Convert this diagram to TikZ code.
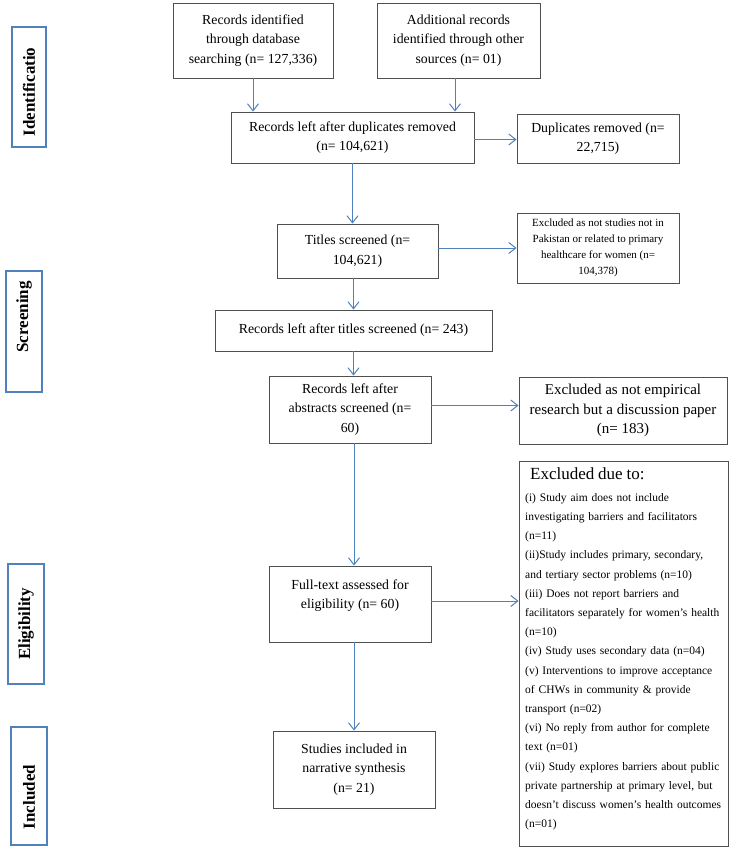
\documentclass[tikz,border=0pt]{standalone}
\usepackage{fontspec}
\setmainfont{Liberation Serif}
\usetikzlibrary{arrows.meta,calc}
\definecolor{obl}{HTML}{4F81BD}
\definecolor{bx}{HTML}{505050}
\newcommand{\jline}[1]{\makebox[194pt][s]{#1}}
\begin{document}
\begin{tikzpicture}[x=1pt,y=-1pt,
  box/.style={draw=bx, line width=0.9pt, inner sep=0pt, align=center, font=\fontsize{13.8}{19.5}\selectfont},
  lab/.style={draw=obl, line width=2.4pt, inner sep=0pt},
  labtxt/.style={rotate=90, font=\bfseries\fontsize{17}{20}\selectfont, inner sep=0pt},
  arr/.style={draw=obl, line width=1pt, -{Straight Barb[length=7pt,width=11pt]}}]
\useasboundingbox (0,0) rectangle (730,853);

% stage labels
\node[lab, minimum width=34, minimum height=120] (l1) at (29,87) {};
\node[labtxt] (t1) at (29,92) {Identificatio};
\node[lab, minimum width=36, minimum height=121] (l2) at (24,331.5) {};
\node[labtxt] (t2) at (24,317) {Screening};
\node[lab, minimum width=36, minimum height=120] (l3) at (26,624) {};
\node[labtxt] (t3) at (26,624) {Eligibility};
\node[lab, minimum width=36, minimum height=118] (l4) at (29,786) {};
\node[labtxt] (t4) at (29,797) {Included};

% boxes
\node[box, minimum width=160, minimum height=75] (b1) at (253,40.5) {Records identified\\through database\\searching (n= 127,336)};
\node[box, minimum width=163, minimum height=75] (b2) at (458.5,40.5) {Additional records\\identified through other\\sources (n= 01)};
\node[box, minimum width=243, minimum height=51] (b3) at (352.5,137.5) {Records left after duplicates removed\\(n= 104,621)};
\node[box, minimum width=162, minimum height=49] (b4) at (598,138.5) {Duplicates removed (n=\\22,715)};
\node[box, minimum width=161, minimum height=54] (b5) at (357.5,251) {Titles screened (n=\\104,621)};
\node[box, minimum width=162, minimum height=70, font=\fontsize{11}{16}\selectfont] (b6) at (598,248) {Excluded as not studies not in\\Pakistan or related to primary\\healthcare for women (n=\\104,378)};
\node[box, minimum width=277, minimum height=41] (b7) at (353.5,330.5) {Records left after titles screened (n= 243)};
\node[box, minimum width=162, minimum height=67] (b8) at (350,409.5) {Records left after\\abstracts screened (n=\\60)};
\node[box, minimum width=208, minimum height=67, font=\fontsize{15}{19.5}\selectfont] (b9) at (623,410.5) {Excluded as not empirical\\research but a discussion paper\\(n= 183)};
\node[box, minimum width=209, minimum height=385] (b10) at (623.5,653.5) {};
\node[anchor=north west, inner sep=0pt, text width=215pt, align=left, font=\fontsize{11.5}{19.2}\selectfont] (t10) at (525,467)
 {\hspace*{5pt}{\fontsize{17}{19.2}\selectfont Excluded due to:}\\[3pt]
 \jline{(i) Study aim does not include}\\
 \jline{investigating barriers and facilitators}\\
 (n=11)\\
 \jline{(ii)Study includes primary, secondary,}\\
 and tertiary sector problems (n=10)\\
 \jline{(iii) Does not report barriers and}\\
 \jline{facilitators separately for women's health}\\
 (n=10)\\
 (iv) Study uses secondary data (n=04)\\
 \jline{(v) Interventions to improve acceptance}\\
 \jline{of CHWs in community \& provide}\\
 transport (n=02)\\
 \jline{(vi) No reply from author for complete}\\
 text (n=01)\\
 \jline{(vii) Study explores barriers about public}\\
 \jline{private partnership at primary level, but}\\
 \jline{doesn’t discuss women's health outcomes}\\
 (n=01)};
\node[box, minimum width=162, minimum height=76] (b11) at (350,604) {Full-text assessed for\\eligibility (n= 60)\\ \mbox{}};
\node[box, minimum width=162, minimum height=77] (b12) at (354,769.5) {Studies included in\\narrative synthesis\\(n= 21)};

% arrows
\draw[arr] (b1.south) -- (b1.south |- b3.north);
\draw[arr] ([xshift=-3.5pt]b2.south) -- ([xshift=-3.5pt]b2.south |- b3.north);
\draw[arr] ([yshift=-2pt]b3.east) -- ([yshift=-2pt]b3.east -| b4.west);
\draw[arr] (b3.south) -- (b3.south |- b5.north);
\draw[arr] ([yshift=3pt]b5.east) -- ([yshift=3pt]b5.east -| b6.west);
\draw[arr] (b7.north |- b5.south) -- (b7.north);
\draw[arr] (b7.south) -- (b7.south |- b8.north);
\draw[arr] ([yshift=4pt]b8.east) -- ([yshift=4pt]b8.east -| b9.west);
\draw[arr] ([xshift=4pt]b8.south) -- ([xshift=4pt]b8.south |- b11.north);
\draw[arr] ([yshift=3pt]b11.east) -- ([yshift=3pt]b11.east -| b10.west);
\draw[arr] ([xshift=4pt]b11.south) -- (b12.north);
\end{tikzpicture}
\end{document}
